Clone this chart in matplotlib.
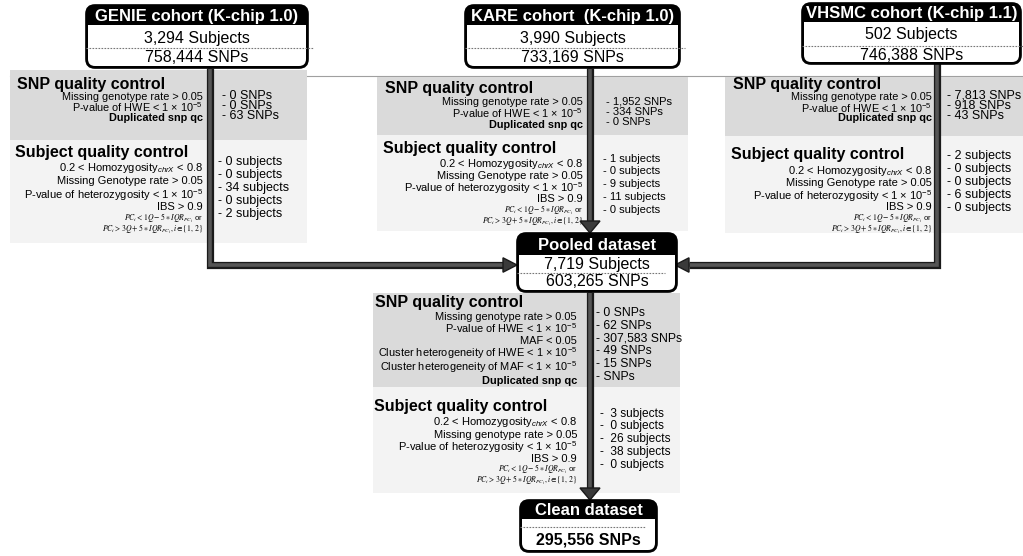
import matplotlib
matplotlib.use("Agg")
import matplotlib.pyplot as plt
from matplotlib.patches import FancyBboxPatch, Rectangle, Polygon

plt.rcParams['font.family'] = ['Liberation Sans', 'DejaVu Sans']
plt.rcParams['mathtext.fontset'] = 'custom'
plt.rcParams['mathtext.rm'] = 'Liberation Sans'
plt.rcParams['mathtext.it'] = 'Liberation Sans:italic'
plt.rcParams['mathtext.bf'] = 'Liberation Sans:bold'

# ---------------- data ----------------
cohorts = ["GENIE cohort (K-chip 1.0)", "KARE cohort  (K-chip 1.0)", "VHSMC cohort (K-chip 1.1)"]
cohort_subjects = ["3,294", "3,990", "502"]
cohort_snps = ["758,444", "733,169", "746,388"]

snp_criteria = ["Missing genotype rate > 0.05",
                "P-value of HWE < 1 × 10$^{-5}$",
                "Duplicated snp qc"]
snp_removed = [["0", "0", "63"],
               ["1,952", "334", "0"],
               ["7,813", "918", "43"]]

subj_criteria = ["0.2 < Homozygosity$_{\\it chrX}$ < 0.8",
                 "Missing Genotype rate > 0.05",
                 "P-value of heterozygosity < 1 × 10$^{-5}$",
                 "IBS > 0.9"]
pc_rules = [r"$PC_i < 1Q - 5 \ast IQR_{PC_i}$ or",
            r"$PC_i > 3Q + 5 \ast IQR_{PC_i}, i \in \{1,\,2\}$"]
subj_removed = [["0", "0", "34", "0", "2"],
                ["1", "0", "9", "11", "0"],
                ["2", "0", "0", "6", "0"]]

pooled_subjects = "7,719"
pooled_snps = "603,265"
pooled_snp_criteria = ["Missing genotype rate > 0.05",
                       "P-value of HWE < 1 × 10$^{-5}$",
                       "MAF < 0.05",
                       "Cluster heterogeneity of HWE < 1 × 10$^{-5}$",
                       "Cluster heterogeneity of MAF < 1 × 10$^{-5}$",
                       "Duplicated snp qc"]
pooled_snp_removed = ["0", "62", "307,583", "49", "15", ""]
pooled_subj_criteria = ["0.2 < Homozygosity$_{\\it chrX}$ < 0.8",
                        "Missing genotype rate > 0.05",
                        "P-value of heterozygosity < 1 × 10$^{-5}$",
                        "IBS > 0.9"]
pooled_subj_removed = ["3", "0", "26", "38", "0"]
clean_snps = "295,556"

# ---------------- figure ----------------
fig = plt.figure(figsize=(10.23, 5.56), dpi=100)
ax = fig.add_axes([0, 0, 1, 1])
ax.set_xlim(0, 1023)
ax.set_ylim(556, 0)
ax.axis('off')

SNP_GRAY = '#dadada'
SUBJ_GRAY = '#f3f3f3'
LINE_DARK = '#1a1a1a'
LINE_MID = '#555555'
CRIT_FS = 8.0
PC_FS = 5.6


def box(x0, x1, y0, yh, y1, title, lines, dash_y, line_ys, bold_lines=False, dash_ext=5):
    r = 9
    ax.add_patch(FancyBboxPatch((x0, y0), x1 - x0, y1 - y0,
                                boxstyle=f"round,pad=0,rounding_size={r}",
                                fc='black', ec='black', lw=1.2, zorder=6))
    ax.add_patch(FancyBboxPatch((x0 + 2, yh), x1 - x0 - 4, y1 - yh - 2,
                                boxstyle=f"round,pad=0,rounding_size={r - 2}",
                                fc='white', ec='none', zorder=7))
    ax.add_patch(Rectangle((x0 + 2, yh), x1 - x0 - 4, r, fc='white', ec='none', zorder=7))
    cx = (x0 + x1) / 2
    ax.text(cx, (y0 + yh) / 2 + 1, title, color='white', fontsize=12, fontweight='bold',
            ha='center', va='center', zorder=8)
    if dash_y is not None:
        ax.plot([x0, x1 + dash_ext], [dash_y, dash_y], color='#777777', lw=0.8,
                ls=(0, (1.5, 1.2)), zorder=8)
    for t, yy in zip(lines, line_ys):
        ax.text(cx, yy, t, fontsize=11.5, ha='center', va='center', zorder=8,
                fontweight='bold' if bold_lines else 'normal')


def thick_path(xs, ys):
    ax.plot(xs, ys, color=LINE_DARK, lw=5.2, solid_capstyle='butt',
            solid_joinstyle='miter', zorder=4)
    ax.plot(xs, ys, color=LINE_MID, lw=2.6, solid_capstyle='butt',
            solid_joinstyle='miter', zorder=4)


def head(tip, direction, L=12, W=10):
    x, y = tip
    if direction == 'down':
        pts = [(x - W, y - L), (x + W, y - L), (x, y)]
    elif direction == 'right':
        pts = [(x - L, y - W * 0.8), (x - L, y + W * 0.8), (x, y)]
    else:
        pts = [(x + L, y - W * 0.8), (x + L, y + W * 0.8), (x, y)]
    ax.add_patch(Polygon(pts, closed=True, fc='#3a3a3a', ec=LINE_DARK, lw=1, zorder=5))


# thin separator line behind the panels
ax.plot([10, 1023], [76, 76], color='#a0a0a0', lw=0.8, zorder=0)

# ---------------- cohort panels ----------------
panels = [
    dict(px0=10, px1=307, top=70, mid=140, bot=243, hx=17, cx=203, rx=222, srx=218, rfs=9.0,
         sh=85, scy=[97, 107.5, 118], sry=[96, 106, 116],
         uh=153, ucy=[168, 181.5, 195, 207.5], pcy=[218.5, 229.5],
         ury=[162, 175, 188, 201, 213.5], lx=210),
    dict(px0=377, px1=688, top=77, mid=135, bot=231, hx=385, cx=583, rx=606, srx=603, rfs=8.0,
         sh=88, scy=[102, 113, 125], sry=[102, 112, 122],
         uh=148, ucy=[164, 176, 188, 199.5], pcy=[210.5, 221.5],
         ury=[159, 171.5, 184, 197, 210], lx=590),
    dict(px0=725, px1=1023, top=77, mid=136, bot=233, hx=733, cx=932, rx=947, srx=947, rfs=9.0,
         sh=85, scy=[97, 108, 118], sry=[96, 106, 116],
         uh=155, ucy=[171, 183.5, 196, 207.5], pcy=[218.5, 229.5],
         ury=[156, 169, 182, 195, 208], lx=937),
]

for i, p in enumerate(panels):
    ax.add_patch(Rectangle((p['px0'], p['top']), p['px1'] - p['px0'], p['mid'] - p['top'],
                           fc=SNP_GRAY, ec='none', zorder=1))
    ax.add_patch(Rectangle((p['px0'], p['mid']), p['px1'] - p['px0'], p['bot'] - p['mid'],
                           fc=SUBJ_GRAY, ec='none', zorder=1))
    ax.text(p['hx'], p['sh'], "SNP quality control", fontsize=11.5, fontweight='bold',
            ha='left', va='center', zorder=3)
    for k, c in enumerate(snp_criteria):
        ax.text(p['cx'], p['scy'][k], c, fontsize=CRIT_FS - 0.2, ha='right', va='center',
                fontweight='bold' if k == 2 else 'normal', zorder=3)
    for k, v in enumerate(snp_removed[i]):
        ax.text(p['rx'], p['sry'][k], f"- {v} SNPs", fontsize=p['rfs'],
                ha='left', va='center', zorder=3)
    ax.text(p['hx'] - 2, p['uh'], "Subject quality control", fontsize=11.5, fontweight='bold',
            ha='left', va='center', zorder=3)
    for k, c in enumerate(subj_criteria):
        ax.text(p['cx'], p['ucy'][k], c, fontsize=CRIT_FS, ha='right', va='center',
                zorder=3)
    for k, c in enumerate(pc_rules):
        ax.text(p['cx'], p['pcy'][k], c, fontsize=PC_FS, ha='right', va='center',
                math_fontfamily='stix', zorder=3)
    for k, v in enumerate(subj_removed[i]):
        ax.text(p['srx'], p['ury'][k], f"- {v} subjects", fontsize=p['rfs'],
                ha='left', va='center', zorder=3)

# ---------------- pooled panel ----------------
ax.add_patch(Rectangle((373, 293), 307, 94, fc=SNP_GRAY, ec='none', zorder=1))
ax.add_patch(Rectangle((373, 387), 307, 106, fc=SUBJ_GRAY, ec='none', zorder=1))
ax.text(375, 303, "SNP quality control", fontsize=11.5, fontweight='bold',
        ha='left', va='center', zorder=3)
pys = [316.5, 328.5, 340.5, 353, 367.5, 381.5]
for k, c in enumerate(pooled_snp_criteria):
    ax.text(577, pys[k], c, fontsize=CRIT_FS - 0.1, ha='right', va='center',
            fontweight='bold' if k == 5 else 'normal', zorder=3)
for k, v in enumerate(pooled_snp_removed):
    txt = f"- {v} SNPs" if v else "- SNPs"
    ax.text(596, 313 + k * 12.8, txt, fontsize=8.8, ha='left', va='center', zorder=3)
ax.text(374, 406, "Subject quality control", fontsize=11.5, fontweight='bold',
        ha='left', va='center', zorder=3)
qys = [422, 434.5, 447, 458.5]
for k, c in enumerate(pooled_subj_criteria):
    ax.text(577, qys[k], c, fontsize=CRIT_FS, ha='right', va='center', zorder=3)
for k, c in enumerate(pc_rules):
    ax.text(577, 469.5 + k * 11, c, fontsize=PC_FS, ha='right', va='center',
            math_fontfamily='stix', zorder=3)
for k, v in enumerate(pooled_subj_removed):
    ax.text(600, 413.5 + k * 12.9, f"-  {v} subjects", fontsize=8.6, ha='left',
            va='center', zorder=3)

# ---------------- flow lines / arrows ----------------
thick_path([210, 210, 503], [68, 265, 265])
head((517, 265), 'right', L=14, W=9)
thick_path([937, 937, 689], [63, 265, 265])
head((675, 265), 'left', L=14, W=9)
thick_path([590, 590], [68, 221])
head((590, 233), 'down', L=12, W=10)
thick_path([590, 590], [292, 488])
head((590, 500), 'down', L=12, W=10)

# ---------------- boxes ----------------
box(86, 308, 5, 25, 68, cohorts[0],
    [f"{cohort_subjects[0]} Subjects", f"{cohort_snps[0]} SNPs"], 48, [39, 58])
box(465, 680, 5, 25, 68, cohorts[1],
    [f"{cohort_subjects[1]} Subjects", f"{cohort_snps[1]} SNPs"], 48, [39, 58])
box(802, 1021, 3, 22, 64, cohorts[2],
    [f"{cohort_subjects[2]} Subjects", f"{cohort_snps[2]} SNPs"], 46, [35, 55])
box(517, 677, 233, 255, 292, "Pooled dataset",
    [f"{pooled_subjects} Subjects", f"{pooled_snps} SNPs"], 273, [264, 282], dash_ext=-12)
box(520, 657, 500, 519, 552, "Clean dataset",
    [f"{clean_snps} SNPs"], 527, [540], bold_lines=True, dash_ext=-12)

fig.savefig("out.png", dpi=100)
